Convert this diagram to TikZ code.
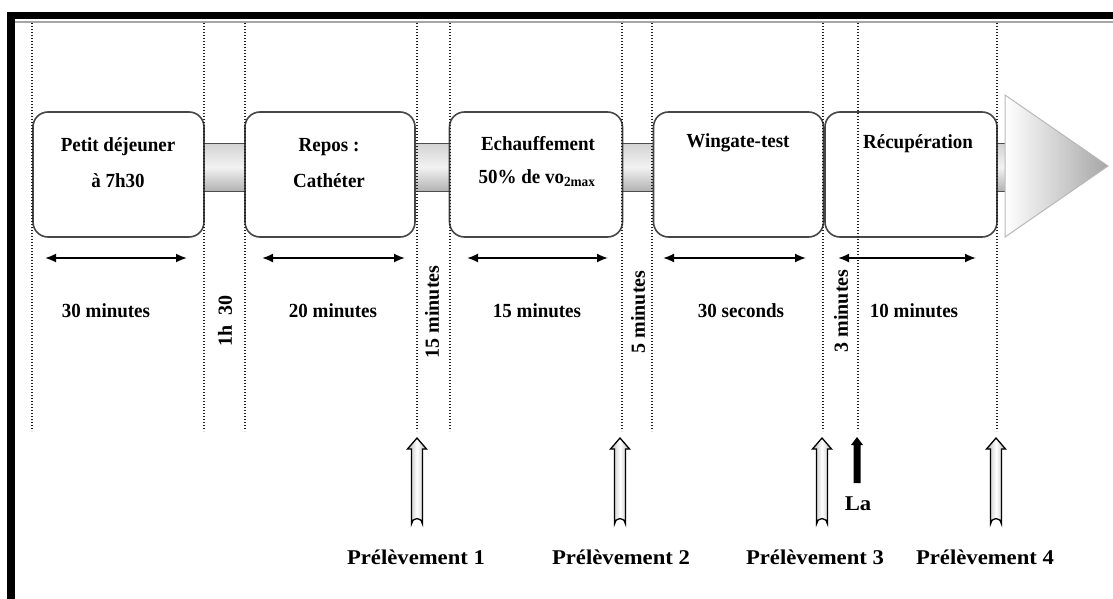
\documentclass[tikz,border=0pt]{standalone}
\usepackage{fontspec}
\setmainfont{Liberation Serif}
\usetikzlibrary{arrows.meta,shadings}
\tikzset{
  x=1pt, y=-1pt,
  stage/.style={draw=gray!55!black, line width=1.6pt, rounded corners=15pt, fill=white, inner sep=0pt},
  btext/.style={font=\fontsize{20}{22}\selectfont\bfseries, inner sep=0pt, xscale=0.95},
  vtext/.style={font=\fontsize{20}{22}\selectfont\bfseries, inner sep=0pt, rotate=90},
  ptext/.style={font=\fontsize{21}{23}\selectfont\bfseries, inner sep=0pt, xscale=1.08},
  dots/.style={line width=1.5pt, gray!25!black, dash pattern=on 1.2pt off 1.8pt},
  dur/.style={line width=1.8pt, {Latex[length=11pt,width=9pt]}-{Latex[length=11pt,width=9pt]}},
  hollow/.pic={
    \draw[line width=1.3pt, left color=gray!55, right color=gray!55, middle color=white]
      (0,0) -- (9.5,11) -- (5.5,11) -- (5.5,86) arc[start angle=0, end angle=-180, radius=5.5] -- (-5.5,11) -- (-9.5,11) -- cycle;
  },
  solidarr/.pic={
    \fill[black] (0,0) -- (6,8) -- (3.5,8) -- (3.5,46) -- (-3.5,46) -- (-3.5,8) -- (-6,8) -- cycle;
  }
}
\begin{document}
\begin{tikzpicture}
\useasboundingbox (0,0) rectangle (1113,599);
\fill[white] (0,0) rectangle (1113,599);
% frame
\fill[black] (7,12) rectangle (1113,19);
\draw[gray!70, line width=1.5pt] (15,22) -- (1113,22);
\fill[black] (7,12) rectangle (15,599);

% timeline band and head
\shade[top color=gray!35, bottom color=gray!60, middle color=gray!10, draw=gray!60!black, line width=1pt]
  (60,143) rectangle (1008,191);
\shade[shading angle=135, left color=white, right color=gray!70, draw=gray!55, line width=1pt]
  (1005,95) -- (1108,166) -- (1005,237) -- cycle;

% boxes
\node[stage, minimum width=171pt, minimum height=125pt] (b1) at (118.5,174.5) {};
\node[stage, minimum width=170pt, minimum height=125pt] (b2) at (330,174.5) {};
\node[stage, minimum width=173pt, minimum height=125pt] (b3) at (536,174.5) {};
\node[stage, minimum width=170pt, minimum height=125pt] (b4) at (738.5,174.5) {};
\node[stage, minimum width=172pt, minimum height=125pt] (b5) at (911,174.5) {};

% box texts
\node[btext] (t1a) at (118,147) {Petit déjeuner};
\node[btext] (t1b) at (118,181) {à 7h30};
\node[btext] (t2a) at (329,147) {Repos :};
\node[btext] (t2b) at (329,181) {Cathéter};
\node[btext] (t3a) at (538,144) {Echauffement};
\node[btext] (t3b) at (537,178) {50\% de vo\textsubscript{2max}};
\node[btext] (t4a) at (738,143) {Wingate-test};
\node[btext] (t5a) at (918,144) {Récupération};

% dotted guide lines
\foreach \xx in {32,204,245,417,450,622,652,823,858,997}
  \draw[dots] (\xx,23) -- (\xx,431);

% duration arrows
\coordinate (d1a) at (45,258);  \coordinate (d1b) at (187,258);
\coordinate (d2a) at (262,258); \coordinate (d2b) at (405,258);
\coordinate (d3a) at (467,258); \coordinate (d3b) at (608,258);
\coordinate (d4a) at (663,258); \coordinate (d4b) at (806,258);
\coordinate (d5a) at (838,258); \coordinate (d5b) at (976,258);
\draw[dur] (d1a) -- (d1b);
\draw[dur] (d2a) -- (d2b);
\draw[dur] (d3a) -- (d3b);
\draw[dur] (d4a) -- (d4b);
\draw[dur] (d5a) -- (d5b);

% duration labels
\node[btext] (l1) at (106,311) {30 minutes};
\node[btext] (l2) at (333,311) {20 minutes};
\node[btext] (l3) at (537,311) {15 minutes};
\node[btext] (l4) at (741,311) {30 seconds};
\node[btext] (l5) at (914,311) {10 minutes};
\node[vtext] (v1) at (225,321) {1h\ \ 30};
\node[vtext] (v2) at (432,312) {15 minutes};
\node[vtext] (v3) at (638,312) {5 minutes};
\node[vtext] (v4) at (841,311) {3 minutes};

% sampling arrows
\pic at (417,438) {hollow};
\pic at (620,438) {hollow};
\pic at (822,438) {hollow};
\pic at (996,438) {hollow};
\pic at (857,437) {solidarr};
\node[ptext] (la) at (858,504) {La};

\node[ptext] (p1) at (416,557) {Prélèvement 1};
\node[ptext] (p2) at (621,557) {Prélèvement 2};
\node[ptext] (p3) at (815,557) {Prélèvement 3};
\node[ptext] (p4) at (985,557) {Prélèvement 4};
\end{tikzpicture}
\end{document}
